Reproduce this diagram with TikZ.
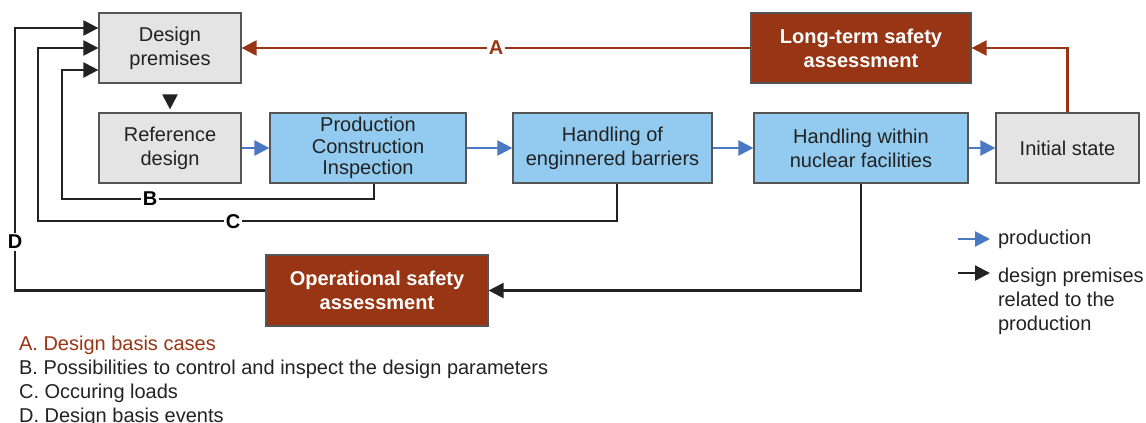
\documentclass[tikz,border=0pt]{standalone}
\usepackage{fontspec}
\setmainfont{Liberation Sans}
\usetikzlibrary{arrows.meta}
\definecolor{boxgray}{HTML}{E4E4E4}
\definecolor{boxblue}{HTML}{92CBEF}
\definecolor{boxred}{HTML}{983514}
\definecolor{edgegray}{HTML}{555555}
\definecolor{textdark}{HTML}{222222}
\definecolor{prodblue}{HTML}{4A78C2}

\begin{document}
\begin{tikzpicture}[x=0.5pt,y=-0.5pt]
        \tikzstyle{box}=[rectangle,draw=edgegray,line width=0.6pt,minimum height=35pt,inner sep=0pt,align=center,text=textdark,font=\fontsize{10}{12}\selectfont]
        \tikzstyle{graybox}=[box,fill=boxgray]
        \tikzstyle{bluebox}=[box,fill=boxblue]
        \tikzstyle{redbox}=[box,fill=boxred,text=white,font=\fontsize{10}{12}\selectfont\bfseries]
        \tikzstyle{prod}=[draw=prodblue,line width=1.1pt,-{Triangle[length=7.5pt,width=7.5pt]}]
        \tikzstyle{prem}=[draw=textdark,line width=1.1pt,-{Triangle[length=7.5pt,width=7.5pt]}]
        \tikzstyle{assess}=[draw=boxred,line width=1.1pt,-{Triangle[length=7.5pt,width=7.5pt]}]
        \tikzstyle{tag}=[fill=white,inner sep=1pt,font=\fontsize{10}{11}\selectfont\bfseries]
        \useasboundingbox (0,0) rectangle (1146,423);
          \node (premises) at (170,48) [graybox,minimum width=71pt] {Design\\premises};
          \node (refdesign) at (170,148) [graybox,minimum width=71pt] {Reference\\design};
          \node (pci) at (368,148) [bluebox,minimum width=98pt,font=\fontsize{10}{10.8}\selectfont] {Production\\Construction\\Inspection};
          \node (barriers) at (612.5,148) [bluebox,minimum width=99.5pt] {Handling of\\enginnered barriers};
          \node (nuclear) at (861,148) [bluebox,minimum width=107pt] {Handling within\\nuclear facilities};
          \node (initial) at (1067.5,148) [graybox,minimum width=71.5pt] {Initial state};
          \node (longterm) at (861,48) [redbox,minimum width=110pt] {Long-term safety\\assessment};
          \node (operational) at (377,290.5) [redbox,minimum width=111pt,minimum height=35.5pt] {Operational safety\\assessment};
          % production chain
          \draw [prod] (refdesign) -- (pci);
          \draw [prod] (pci) -- (barriers);
          \draw [prod] (barriers) -- (nuclear);
          \draw [prod] (nuclear) -- (initial);
          \draw [prem,shorten <=6.5pt,shorten >=1.5pt] (premises) -- (refdesign);
          % feedback loops
          \draw [assess] (initial.north) |- (longterm);
          \draw [assess] (longterm) -- (premises) node [tag,text=boxred,midway] {A};
          \draw [prem] ([xshift=3pt]pci.south) |- (62,199) |- ([yshift=-11pt]premises.west);
          \draw [prem] ([xshift=2.25pt]barriers.south) |- (38,221) |- (premises.west);
          \draw [prem] (nuclear.south) |- (operational);
          \draw [prem] (operational.west) -| (15,28) -- ([yshift=10pt]premises.west);
          \node (tagB) at (150,199) [tag] {B};
          \node (tagC) at (233,222) [tag] {C};
          \node (tagD) at (15,242) [tag] {D};
          % legend
          \node (legprod) at (991,239) [anchor=west,text=textdark,font=\fontsize{10}{12}\selectfont] {production};
          \node (legprem) at (991,261) [anchor=north west,align=left,text=textdark,font=\fontsize{10}{12}\selectfont] {design premises\\related to the\\production};
          \coordinate (prodstart) at (958,239);
          \coordinate (premstart) at (958,273);
          \draw [prod,shorten >=0.5pt] (prodstart) -- (legprod.west);
          \draw [prem,shorten >=0.5pt] (premstart) -- (premstart -| legprem.west);
          \node (notes) at (12,329) [anchor=north west,align=left,text=textdark,font=\fontsize{10}{12}\selectfont] {\textcolor{boxred}{A. Design basis cases}\\B. Possibilities to control and inspect the design parameters\\C. Occuring loads\\D. Design basis events};
      \end{tikzpicture}
\end{document}
